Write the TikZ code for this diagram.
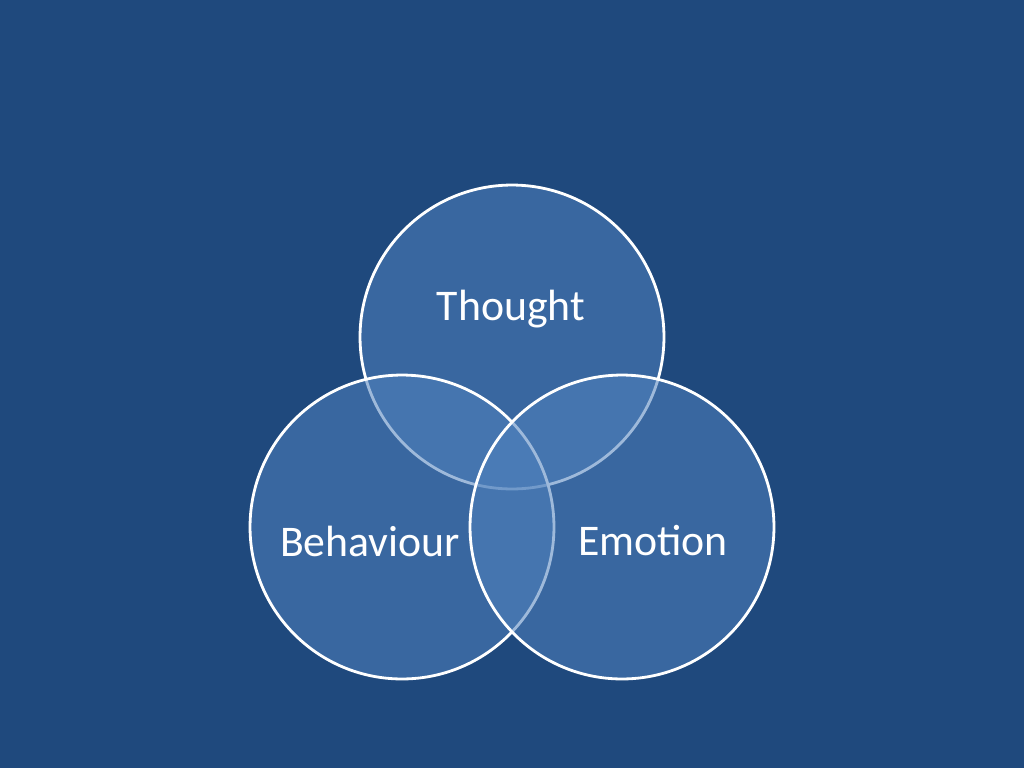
\documentclass[tikz,border=0pt]{standalone}
\usepackage{fontspec}
\setmainfont{Carlito}
\definecolor{bgblue}{HTML}{1F497D}
\definecolor{ringblue}{HTML}{4F81BD}
\tikzset{
  ring/.style={circle,draw=white,line width=1.6pt,fill=ringblue,fill opacity=0.55,minimum size=6.08cm,inner sep=0pt},
  word/.style={text=white,font=\fontsize{24.9}{28}\selectfont}
}
\begin{document}
\begin{tikzpicture}[x=0.02cm,y=-0.02cm]
            \fill[bgblue] (0,0) rectangle (1024,768);
            \useasboundingbox (0,0) rectangle (1024,768);
            \node[ring] (thought) at (512,337) {};
            \node[ring] (behaviour) at (402,527) {};
            \node[ring] (emotion) at (622,527) {};
            \node[word] (thoughtlabel) at (511,309) {Thought};
            \node[word] (behaviourlabel) at (370,541) {Behaviour};
            \node[word] (emotionlabel) at (653,541) {Emotion};
        \end{tikzpicture}
\end{document}
